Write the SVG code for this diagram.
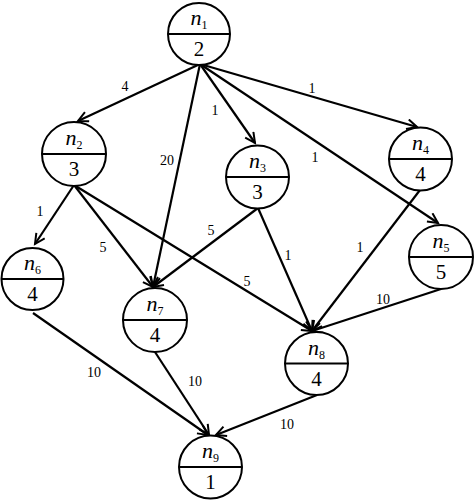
<svg xmlns="http://www.w3.org/2000/svg" width="474" height="501" viewBox="0 0 474 501" font-family="Liberation Serif, Times New Roman, DejaVu Serif, serif">
<defs>
<marker id="arr" markerUnits="userSpaceOnUse" markerWidth="14" markerHeight="14" refX="11" refY="6" orient="auto">
<path d="M1,1 L11,6 L1,11" fill="none" stroke="#000" stroke-width="2"/>
</marker>
<style>
.c{fill:#fff;stroke:#000;stroke-width:2}
.d{stroke:#000;stroke-width:2}
.e{stroke:#000;stroke-width:2.2;fill:none;marker-end:url(#arr)}
text{fill:#000;text-anchor:middle}
.n{font-size:22px}
.i{font-style:italic}
.s{font-size:12px}
.v{font-size:21px}
.l{font-size:14px}
</style>
</defs>
<rect width="474" height="501" fill="#fff"/>
<g id="edges">
<line class="e" x1="200" y1="64" x2="78" y2="121"/>
<line class="e" x1="200" y1="64" x2="153" y2="287"/>
<line class="e" x1="200" y1="64" x2="255" y2="143"/>
<line class="e" x1="200" y1="64" x2="417" y2="127"/>
<line class="e" x1="200" y1="64" x2="438" y2="223"/>
<line class="e" x1="74" y1="185" x2="35" y2="244"/>
<line class="e" x1="74" y1="185" x2="153" y2="287"/>
<line class="e" x1="74" y1="185" x2="312" y2="331"/>
<line class="e" x1="258" y1="208" x2="153" y2="287"/>
<line class="e" x1="258" y1="208" x2="312" y2="331"/>
<line class="e" x1="420" y1="190" x2="312" y2="331"/>
<line class="e" x1="441" y1="289" x2="312" y2="331"/>
<line class="e" x1="33" y1="313" x2="208" y2="435"/>
<line class="e" x1="155" y1="352" x2="209" y2="435"/>
<line class="e" x1="317" y1="395" x2="216" y2="435"/>
<text class="l" x="125" y="91">4</text>
<text class="l" x="167" y="165">20</text>
<text class="l" x="215" y="115">1</text>
<text class="l" x="312" y="93">1</text>
<text class="l" x="315" y="162">1</text>
<text class="l" x="40" y="216">1</text>
<text class="l" x="103" y="252">5</text>
<text class="l" x="247" y="286">5</text>
<text class="l" x="211" y="235">5</text>
<text class="l" x="288" y="260">1</text>
<text class="l" x="360" y="252">1</text>
<text class="l" x="383" y="304">10</text>
<text class="l" x="94" y="377">10</text>
<text class="l" x="195" y="386">10</text>
<text class="l" x="287" y="429">10</text>
</g>
<g id="n1"><circle class="c" cx="199" cy="34" r="31"/><line class="d" x1="168" y1="34" x2="230" y2="34"/><text class="n" x="199" y="25"><tspan class="i">n</tspan><tspan class="s" dy="4">1</tspan></text><text class="v" x="199" y="56">2</text></g>
<g id="n2"><circle class="c" cx="74" cy="154" r="32"/><line class="d" x1="42" y1="154" x2="106" y2="154"/><text class="n" x="74" y="145"><tspan class="i">n</tspan><tspan class="s" dy="4">2</tspan></text><text class="v" x="74" y="176">3</text></g>
<g id="n3"><circle class="c" cx="257.5" cy="177" r="31.5"/><line class="d" x1="226" y1="177" x2="289" y2="177"/><text class="n" x="257.5" y="168"><tspan class="i">n</tspan><tspan class="s" dy="4">3</tspan></text><text class="v" x="257.5" y="199">3</text></g>
<g id="n4"><circle class="c" cx="420.5" cy="159" r="31.5"/><line class="d" x1="389" y1="159" x2="452" y2="159"/><text class="n" x="420.5" y="150"><tspan class="i">n</tspan><tspan class="s" dy="4">4</tspan></text><text class="v" x="420.5" y="181">4</text></g>
<g id="n5"><circle class="c" cx="441" cy="257" r="32"/><line class="d" x1="409" y1="257" x2="473" y2="257"/><text class="n" x="441" y="248"><tspan class="i">n</tspan><tspan class="s" dy="4">5</tspan></text><text class="v" x="441" y="279">5</text></g>
<g id="n6"><circle class="c" cx="32.5" cy="279" r="31"/><line class="d" x1="1.5" y1="279" x2="63.5" y2="279"/><text class="n" x="32.5" y="270"><tspan class="i">n</tspan><tspan class="s" dy="4">6</tspan></text><text class="v" x="32.5" y="301">4</text></g>
<g id="n7"><circle class="c" cx="155" cy="320" r="32"/><line class="d" x1="123" y1="320" x2="187" y2="320"/><text class="n" x="155" y="311"><tspan class="i">n</tspan><tspan class="s" dy="4">7</tspan></text><text class="v" x="155" y="342">4</text></g>
<g id="n8"><circle class="c" cx="316.5" cy="363.5" r="31.5"/><line class="d" x1="285" y1="363.5" x2="348" y2="363.5"/><text class="n" x="316.5" y="354.5"><tspan class="i">n</tspan><tspan class="s" dy="4">8</tspan></text><text class="v" x="316.5" y="385.5">4</text></g>
<g id="n9"><circle class="c" cx="210.5" cy="467" r="31.5"/><line class="d" x1="179" y1="467" x2="242" y2="467"/><text class="n" x="210.5" y="458"><tspan class="i">n</tspan><tspan class="s" dy="4">9</tspan></text><text class="v" x="210.5" y="489">1</text></g>
</svg>
